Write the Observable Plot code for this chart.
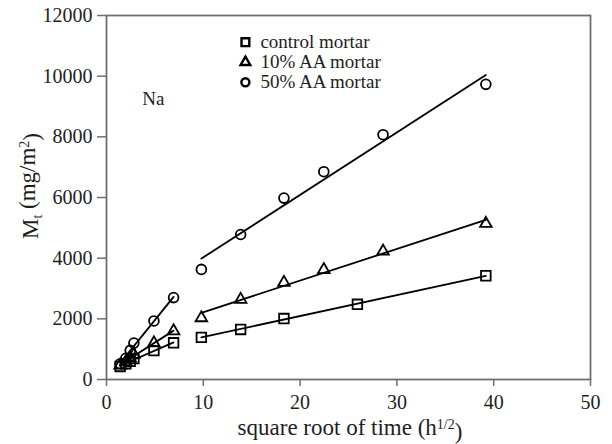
<!DOCTYPE html>
<html>
<head>
<meta charset="utf-8">
<script src="https://cdn.jsdelivr.net/npm/d3@7"></script>
<script src="https://cdn.jsdelivr.net/npm/@observablehq/plot@0.6"></script>
<style>
  html, body { margin: 0; padding: 0; background: #fff; }
  #chart svg { display: block; }
  #chart svg text { font-family: "Liberation Serif", "Times New Roman", serif; }
</style>
</head>
<body>
<div id="chart"></div>
<script>
// Series names, in legend order
const series = ["control mortar", "10% AA mortar", "50% AA mortar"];
const symbols = ["square", "triangle", "circle"];

// Square root of time (h^1/2): early sampling (2-48 h) and later sampling
const tEarly = [1.41, 2.0, 2.45, 2.83, 4.9, 6.93];
const tLateControl = [9.8, 13.86, 18.33, 25.92, 39.19];
const tLateAA = [9.8, 13.86, 18.33, 22.45, 28.57, 39.19];

// Cumulative Na mass Mt (mg/m2)
const controlEarly = [430, 520, 600, 690, 950, 1210];
const controlLate = [1390, 1650, 2010, 2480, 3420];
const aa10Early = [470, 580, 700, 820, 1200, 1600];
const aa10Late = [2030, 2635, 3195, 3620, 4225, 5140];
const aa50Early = [520, 700, 960, 1200, 1930, 2700];
const aa50Late = [3630, 4780, 5980, 6850, 8070, 9730];

const xTicks = [0, 10, 20, 30, 40, 50];
const yTicks = [0, 2000, 4000, 6000, 8000, 10000, 12000];

// Flatten into rows; each phase gets its own fitted line
function rows(name, phase, ts, vs) {
  return ts.map((t, i) => ({series: name, phase, group: name + "|" + phase, t, m: vs[i]}));
}
const data = [
  ...rows(series[0], "early", tEarly, controlEarly),
  ...rows(series[0], "late", tLateControl, controlLate),
  ...rows(series[1], "early", tEarly, aa10Early),
  ...rows(series[1], "late", tLateAA, aa10Late),
  ...rows(series[2], "early", tEarly, aa50Early),
  ...rows(series[2], "late", tLateAA, aa50Late)
];

// Legend block inside the plot area (data units)
const legendX = 14.35, legendTextX = 15.9, legendTop = 11120, legendStep = 660;
const legendRows = series.map((s, i) => ({series: s, y: legendTop - i * legendStep}));

// Marker radius per symbol (triangles are drawn smaller so they look the same size)
const markerR = {"square": 5.4, "triangle": 4.3, "circle": 4.9};
const legendR = {"square": 4.4, "triangle": 3.6, "circle": 4.0};

const axisColor = "#6f6f6f";
const textColor = "#1e1e1e";
const serif = "'Liberation Serif', 'Times New Roman', serif";

const dotMarks = series.flatMap((s, i) => [
  Plot.dot(data.filter(d => d.series === s), {x: "t", y: "m", symbol: "series", r: markerR[symbols[i]], stroke: "#000", strokeWidth: 1.8, fill: "none"}),
  Plot.dot(legendRows.filter(d => d.series === s), {x: () => legendX, y: "y", symbol: "series", r: legendR[symbols[i]], stroke: "#000", strokeWidth: 2.4, fill: "none"})
]);

const chart = Plot.plot({
  width: 612,
  height: 444,
  marginLeft: 106,
  marginRight: 22,
  marginTop: 15,
  marginBottom: 65,
  style: {fontFamily: serif, fontSize: "16px", background: "#fff", color: textColor},
  x: {domain: [0, 50]},
  y: {domain: [0, 12000]},
  symbol: {domain: series, range: symbols},
  marks: [
    Plot.linearRegressionY(data, {x: "t", y: "m", z: "group", ci: 0, stroke: "#000", strokeWidth: 1.8}),
    ...dotMarks,
    Plot.text(legendRows, {x: () => legendTextX, y: "y", text: "series", textAnchor: "start", fontSize: 19, fontFamily: serif, fill: textColor}),
    Plot.text(["Na"], {x: 4.85, y: 9265, text: d => d, fontSize: 19, fontFamily: serif, fill: textColor}),
    Plot.axisX({ticks: xTicks, tickFormat: d => String(d), tickSize: 7, tickPadding: 8, stroke: axisColor, strokeWidth: 1.5, fill: textColor, label: null, fontSize: 20, fontFamily: serif}),
    Plot.axisY({ticks: yTicks, tickFormat: d => String(d), tickSize: 9, tickPadding: 5, stroke: axisColor, strokeWidth: 1.5, fill: textColor, label: null, fontSize: 20, fontFamily: serif}),
    Plot.frame({stroke: axisColor, strokeWidth: 1.8})
  ]
});

// Axis titles with sub/superscripts
const svg = d3.select(chart);
const xt = svg.append("text")
  .attr("x", 350).attr("y", 435)
  .attr("text-anchor", "middle")
  .attr("fill", textColor)
  .style("font-family", serif)
  .style("font-size", "23px");
xt.append("tspan").text("square root of time (h");
xt.append("tspan").attr("dy", "-0.45em").style("font-size", "14px").text("1/2");
xt.append("tspan").attr("dy", "0.45em").text(")");

const yt = svg.append("text")
  .attr("transform", "translate(38,186) rotate(-90)")
  .attr("text-anchor", "middle")
  .attr("fill", textColor)
  .style("font-family", serif)
  .style("font-size", "23px");
yt.append("tspan").text("M");
yt.append("tspan").attr("dy", "0.3em").style("font-size", "14px").text("t");
yt.append("tspan").attr("dy", "-0.3em").text(" (mg/m");
yt.append("tspan").attr("dy", "-0.45em").style("font-size", "14px").text("2");
yt.append("tspan").attr("dy", "0.45em").text(")");

document.getElementById("chart").appendChild(chart);
</script>
</body>
</html>
